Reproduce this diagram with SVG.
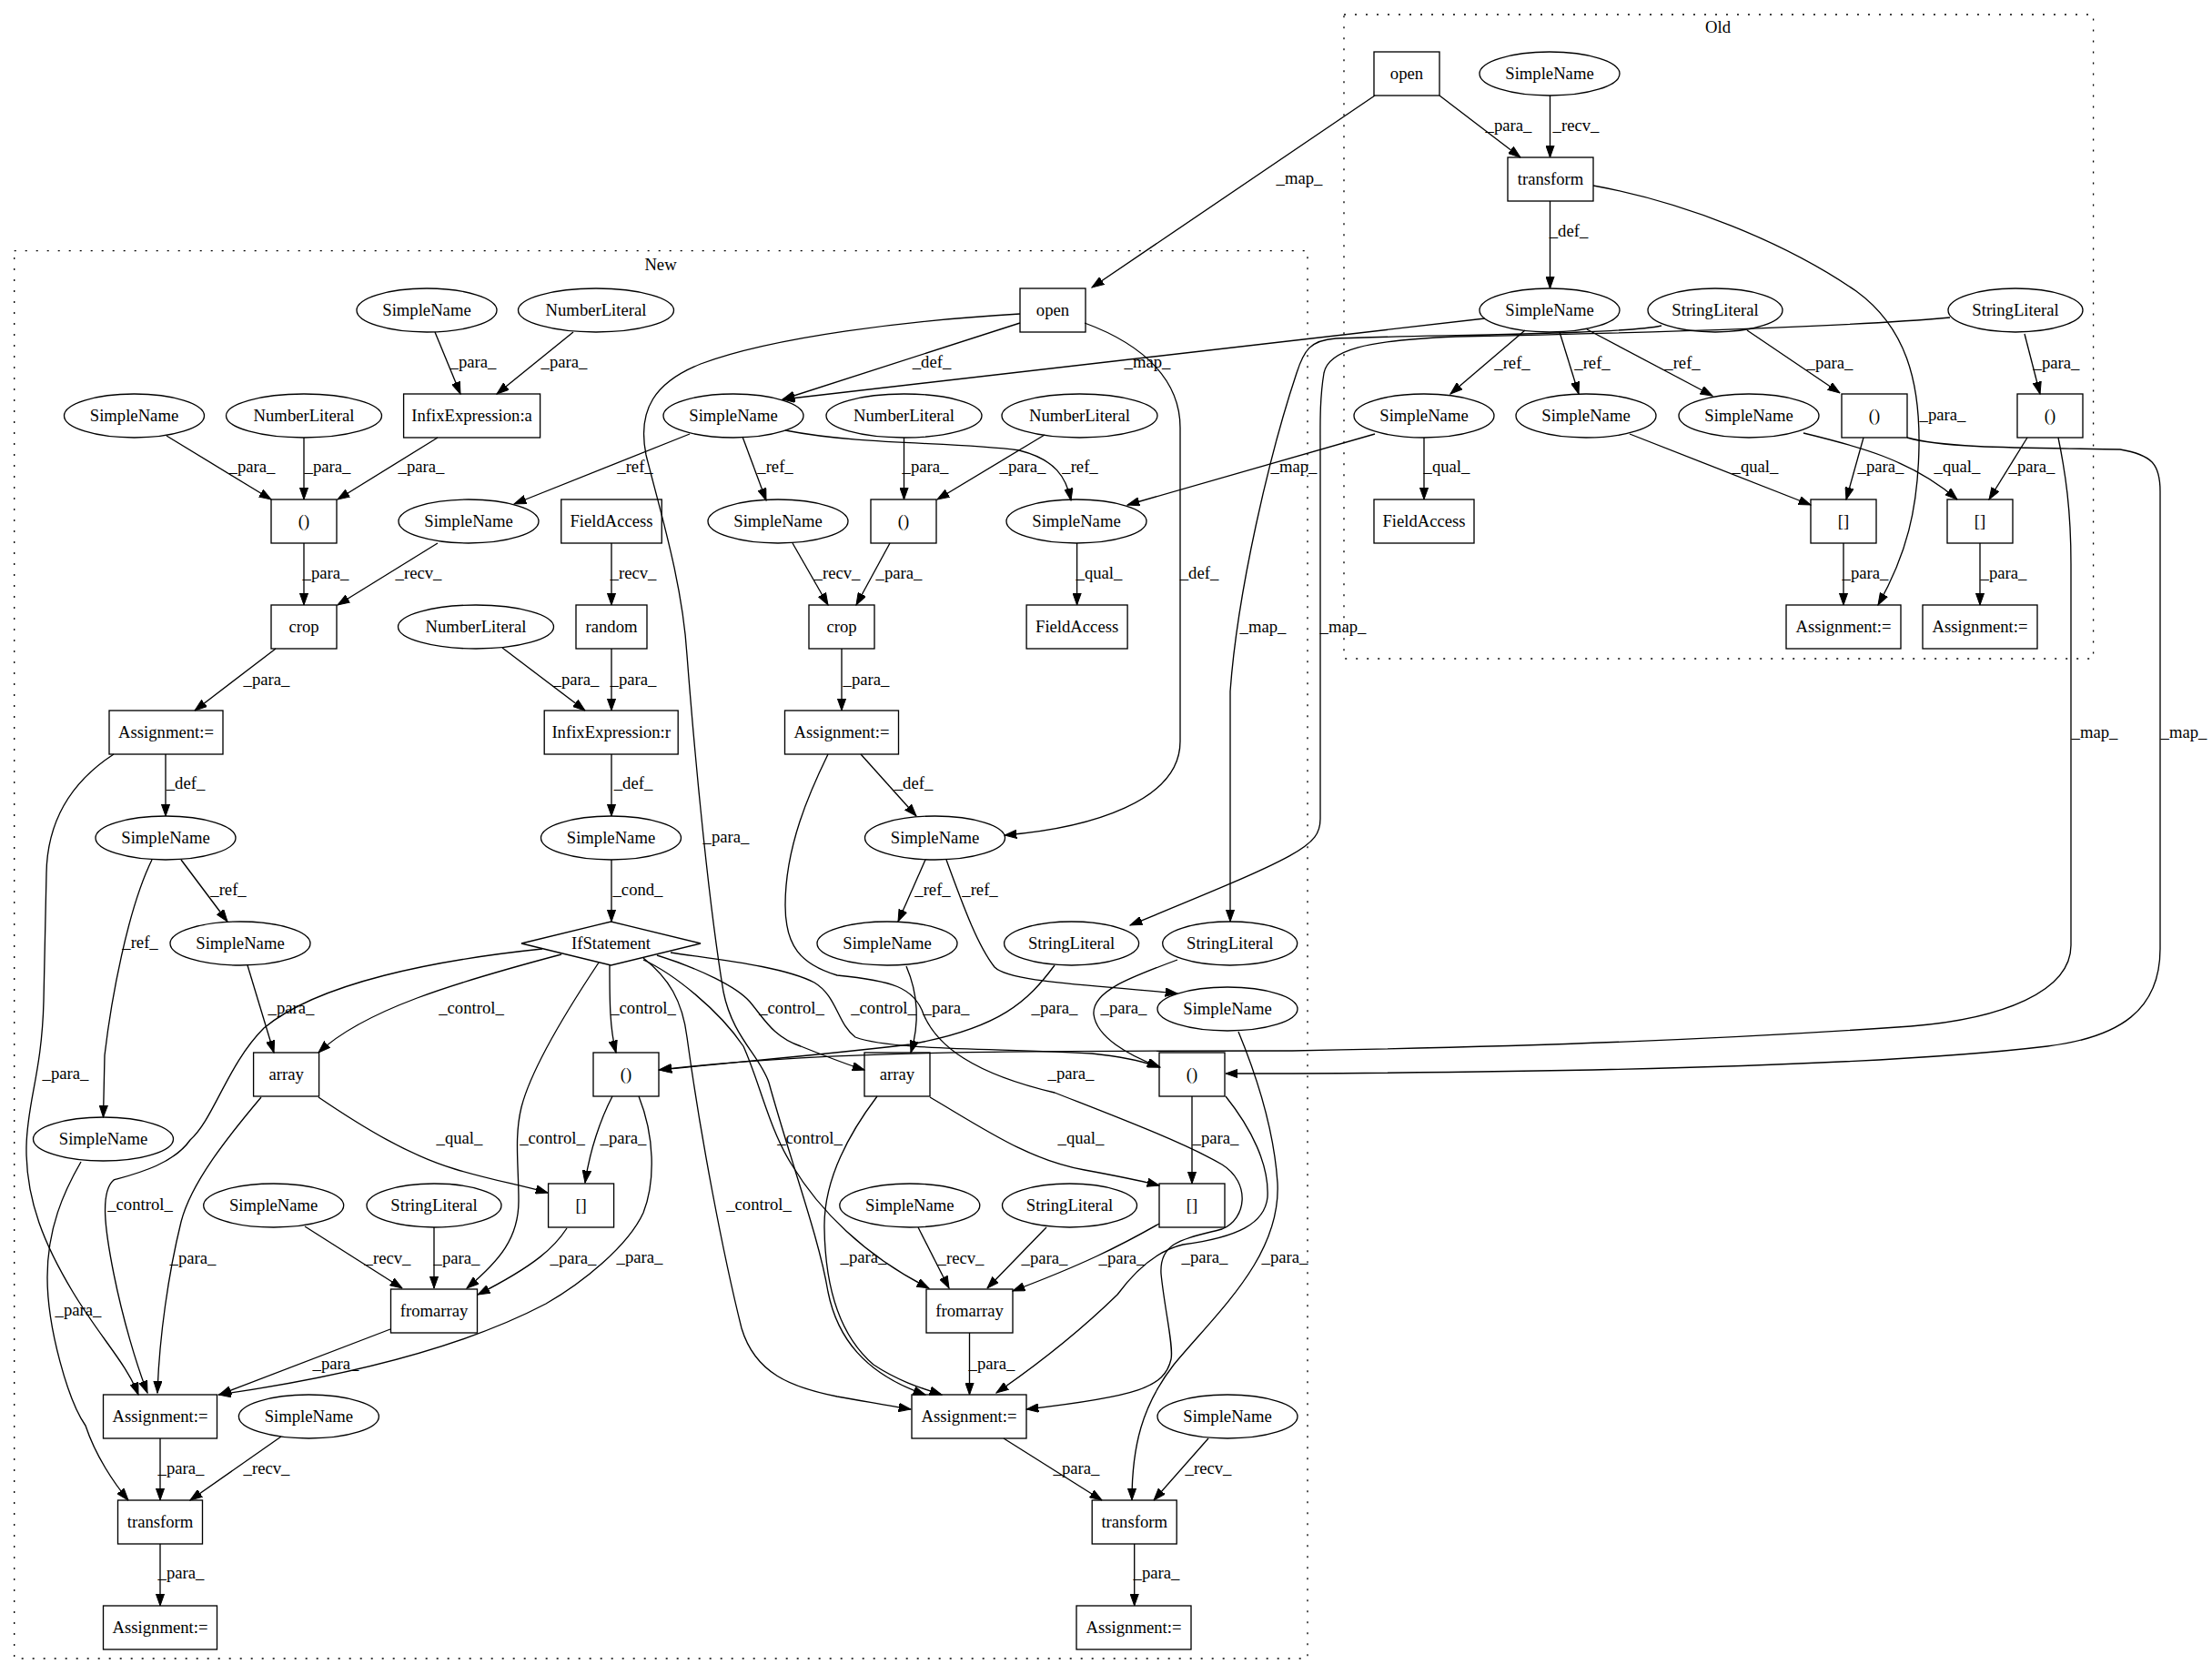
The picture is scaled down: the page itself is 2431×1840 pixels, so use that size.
<svg xmlns="http://www.w3.org/2000/svg" width="2431" height="1840" viewBox="0 0 2431 1840">
<style>
.t{font-family:"Liberation Serif","Times New Roman",serif;font-size:18.67px;text-anchor:middle;fill:#000}
.s{fill:none;stroke:#000;stroke-width:1.33}
.c{fill:none;stroke:#000;stroke-width:1.33;stroke-dasharray:2,10}
#edges path{fill:none;stroke:#000;stroke-width:1.33;marker-end:url(#a)}
</style>
<defs>
<marker id="a" markerWidth="14" markerHeight="10" refX="13.3" refY="5" orient="auto" markerUnits="userSpaceOnUse"><path d="M0,0.3 L13.3,5 L0,9.7 z" fill="#000" stroke="#000" stroke-width="1"/></marker>
</defs>
<rect width="2431" height="1840" fill="#fff"/>
<g id="clusters">
<rect class="c" x="1477" y="16" width="823.6" height="708"/>
<text class="t" x="1888" y="36">Old</text>
<rect class="c" x="15.7" y="275.6" width="1421.3" height="1547.4"/>
<text class="t" x="726" y="297">New</text>
</g>
<g id="edges">
<path d="M1582,105 L1671,173"/><text class="t" x="1658" y="144">_para_</text>
<path d="M1703.5,105 L1703.5,173"/><text class="t" x="1732" y="144">_recv_</text>
<path d="M1703.5,221 L1703.5,317"/><text class="t" x="1724" y="260">_def_</text>
<path d="M1751,204 C1850,222 1960,265 2040,320 C2095,360 2110,420 2109,490 C2108,560 2095,610 2064,665"/><text class="t" x="2135" y="462">_para_</text>
<path d="M1676,363 L1594,433"/><text class="t" x="1662" y="405">_ref_</text>
<path d="M1714,365 L1735,433"/><text class="t" x="1750" y="405">_ref_</text>
<path d="M1744,362 L1882,435"/><text class="t" x="1849" y="405">_ref_</text>
<path d="M1920,363 L2022,432"/><text class="t" x="2011" y="405">_para_</text>
<path d="M2225,367 L2242,433"/><text class="t" x="2260" y="405">_para_</text>
<path d="M1565,481 L1565,549"/><text class="t" x="1590" y="519">_qual_</text>
<path d="M1791,477 L1990,555"/><text class="t" x="1929" y="519">_qual_</text>
<path d="M1982,476 C2040,490 2100,505 2151,549"/><text class="t" x="2151" y="519">_qual_</text>
<path d="M2048,481 L2029,549"/><text class="t" x="2067" y="519">_para_</text>
<path d="M2228,481 L2186,549"/><text class="t" x="2233" y="519">_para_</text>
<path d="M2026,597 L2026,665"/><text class="t" x="2050" y="636">_para_</text>
<path d="M2176,597 L2176,665"/><text class="t" x="2202" y="636">_para_</text>
<path d="M1511,105 L1200,316"/><text class="t" x="1428" y="202">_map_</text>
<path d="M1632,350 L860,439"/><text class="t" x="1261" y="404">_map_</text>
<path d="M1511,477 L1239,555"/><text class="t" x="1422" y="519">_map_</text>
<path d="M1826,358 C1780,368 1560,368 1468,372 C1440,374 1433,385 1425,410 C1395,500 1360,650 1352,760 L1352,1013"/><text class="t" x="1388" y="695">_map_</text>
<path d="M2143,349 C2000,362 1700,368 1600,370 C1500,374 1460,385 1455,410 C1450,440 1451,470 1451,500 L1451,900 C1451,930 1430,940 1242,1017"/><text class="t" x="1476" y="695">_map_</text>
<path d="M2096,481 C2140,494 2250,492 2330,494 C2365,500 2374,510 2374,540 L2374,1043 C2374,1110 2330,1140 2250,1150 C2100,1168 1800,1178 1420,1180 L1347,1180"/><text class="t" x="2400" y="811">_map_</text>
<path d="M2262,481 C2270,520 2276,560 2276,620 L2276,1039 C2276,1090 2200,1120 2100,1128 C1900,1142 1700,1150 1420,1155 C1100,1155 900,1155 724,1176"/><text class="t" x="2302" y="811">_map_</text>
<path d="M478,365 L506,433"/><text class="t" x="520" y="404">_para_</text>
<path d="M630,365 L546,433"/><text class="t" x="620" y="404">_para_</text>
<path d="M183,479 L298,549"/><text class="t" x="277" y="519">_para_</text>
<path d="M334,481 L334,549"/><text class="t" x="360" y="519">_para_</text>
<path d="M481,481 L371,549"/><text class="t" x="463" y="519">_para_</text>
<path d="M1121,355 L860,439"/><text class="t" x="1024" y="404">_def_</text>
<path d="M1192,355 C1260,380 1297,420 1297,470 L1297,815 C1297,880 1200,910 1104,918"/><text class="t" x="1318" y="636">_def_</text>
<path d="M1121,345 C1000,352 850,370 770,400 C720,420 700,450 710,500 C725,560 750,640 755,720 C765,850 780,1000 795,1090 C805,1140 835,1160 845,1190 C870,1280 900,1360 910,1420 C920,1470 950,1510 1017,1533"/><text class="t" x="798" y="926">_para_</text>
<path d="M758,477 L565,554"/><text class="t" x="698" y="519">_ref_</text>
<path d="M816,480 L842,550"/><text class="t" x="852" y="519">_ref_</text>
<path d="M863,473 C950,490 1050,485 1120,495 C1160,505 1172,525 1177,550"/><text class="t" x="1187" y="519">_ref_</text>
<path d="M993.5,481 L993.5,549"/><text class="t" x="1017" y="519">_para_</text>
<path d="M1148,478 L1030,549"/><text class="t" x="1124" y="519">_para_</text>
<path d="M334,597 L334,665"/><text class="t" x="358" y="636">_para_</text>
<path d="M481,597 L371,665"/><text class="t" x="460" y="636">_recv_</text>
<path d="M672,597 L672,665"/><text class="t" x="696" y="636">_recv_</text>
<path d="M871,597 L910,665"/><text class="t" x="920" y="636">_recv_</text>
<path d="M978,597 L941,665"/><text class="t" x="988" y="636">_para_</text>
<path d="M1183.6,597 L1183.6,665"/><text class="t" x="1208" y="636">_qual_</text>
<path d="M303,713 L214,781"/><text class="t" x="293" y="753">_para_</text>
<path d="M552,712 L643,781"/><text class="t" x="633" y="753">_para_</text>
<path d="M672,713 L672,781"/><text class="t" x="696" y="753">_para_</text>
<path d="M925,713 L925,781"/><text class="t" x="952" y="753">_para_</text>
<path d="M182,829 L182,897"/><text class="t" x="204" y="867">_def_</text>
<path d="M672,829 L672,897"/><text class="t" x="696" y="867">_def_</text>
<path d="M946,829 L1007,897"/><text class="t" x="1004" y="867">_def_</text>
<path d="M125,829 C85,855 52,895 51,960 L48,1100 C46,1180 30,1210 29,1260 C28,1320 50,1370 80,1420 C110,1470 140,1500 152,1533"/><text class="t" x="72" y="1186">_para_</text>
<path d="M910,829 C890,870 863,930 863,995 C863,1040 880,1060 920,1072 C980,1078 1005,1085 1015,1115 C1030,1150 1070,1180 1159,1201 C1220,1225 1300,1255 1343,1280 C1375,1300 1370,1340 1343,1351 C1300,1362 1274,1365 1276,1400 C1280,1440 1290,1480 1287,1494 C1280,1525 1250,1535 1128,1549"/><text class="t" x="1177" y="1186">_para_</text>
<path d="M199,945 L250,1013"/><text class="t" x="251" y="984">_ref_</text>
<path d="M167,945 C140,1000 122,1100 115,1160 L113.5,1228"/><text class="t" x="154" y="1042">_ref_</text>
<path d="M672,945 L672,1013"/><text class="t" x="701" y="984">_cond_</text>
<path d="M1017,945 L987,1013"/><text class="t" x="1025" y="984">_ref_</text>
<path d="M1040,945 C1060,1000 1075,1040 1093,1063 C1110,1080 1200,1082 1294,1092"/><text class="t" x="1077" y="984">_ref_</text>
<path d="M272,1061 L301,1157"/><text class="t" x="320" y="1114">_para_</text>
<path d="M996,1062 C1008,1090 1012,1120 1001,1157"/><text class="t" x="1040" y="1114">_para_</text>
<path d="M1159,1061 C1130,1100 1100,1130 1000,1148 C900,1160 800,1168 725,1176"/><text class="t" x="1159" y="1114">_para_</text>
<path d="M1294,1055 C1240,1075 1200,1090 1202,1115 C1205,1140 1240,1160 1275,1173"/><text class="t" x="1235" y="1114">_para_</text>
<path d="M617,1049 C500,1080 400,1110 350,1157"/><text class="t" x="518" y="1114">_control_</text>
<path d="M670,1061 C670,1100 670,1130 677,1157"/><text class="t" x="707" y="1114">_control_</text>
<path d="M722,1050 C770,1065 810,1085 824,1101 C840,1120 850,1140 880,1150 C910,1162 930,1170 950,1176"/><text class="t" x="870" y="1114">_control_</text>
<path d="M737,1047 C790,1055 860,1062 895,1080 C920,1095 920,1125 940,1140 C980,1155 1100,1152 1200,1158 C1240,1162 1260,1168 1274,1173"/><text class="t" x="971" y="1114">_control_</text>
<path d="M658,1058 C630,1100 585,1170 573,1217 C565,1250 570,1280 570,1320 C570,1360 550,1385 513,1416"/><text class="t" x="607" y="1257">_control_</text>
<path d="M707,1055 C740,1070 790,1110 817,1150 C835,1190 845,1240 870,1280 C900,1330 950,1380 1021,1416"/><text class="t" x="890" y="1257">_control_</text>
<path d="M707,1053 C735,1075 750,1100 755,1140 C770,1250 795,1380 815,1460 C830,1510 870,1525 920,1535 C950,1540 975,1545 1001,1549"/><text class="t" x="834" y="1330">_control_</text>
<path d="M596,1043 C480,1055 350,1080 290,1130 C250,1170 235,1230 209,1253 C190,1280 150,1290 125,1297 C110,1310 115,1350 125,1400 C135,1450 150,1500 162,1531"/><text class="t" x="154" y="1330">_control_</text>
<path d="M350,1206 C400,1240 450,1270 500,1285 C540,1297 570,1302 602,1311"/><text class="t" x="505" y="1257">_qual_</text>
<path d="M287,1206 C250,1250 210,1300 199,1343 C185,1400 175,1470 173,1531"/><text class="t" x="212" y="1389">_para_</text>
<path d="M673,1205 C660,1230 648,1265 643,1300"/><text class="t" x="685" y="1257">_para_</text>
<path d="M702,1205 C720,1250 720,1300 707,1333 C690,1370 640,1410 600,1433 C520,1475 400,1510 240,1533"/><text class="t" x="703" y="1388">_para_</text>
<path d="M1022,1206 C1080,1240 1130,1275 1192,1286 C1230,1293 1250,1297 1274,1303"/><text class="t" x="1188" y="1257">_qual_</text>
<path d="M964,1205 C930,1250 905,1300 906,1350 C907,1420 925,1470 960,1500 C990,1520 1020,1528 1035,1533"/><text class="t" x="949" y="1388">_para_</text>
<path d="M1310,1205 L1310,1301"/><text class="t" x="1336" y="1257">_para_</text>
<path d="M1347,1205 C1375,1240 1395,1280 1393,1316 C1390,1345 1360,1360 1300,1368 C1270,1375 1245,1400 1228,1423 C1190,1460 1140,1500 1095,1531"/><text class="t" x="1324" y="1388">_para_</text>
<path d="M1361,1134 C1380,1180 1400,1240 1404,1300 C1408,1380 1340,1440 1290,1500 C1255,1545 1244,1590 1244,1649"/><text class="t" x="1412" y="1388">_para_</text>
<path d="M335,1348 L442,1416"/><text class="t" x="426" y="1389">_recv_</text>
<path d="M477,1349 L477,1416"/><text class="t" x="502" y="1389">_para_</text>
<path d="M623,1350 C610,1370 590,1390 525,1423"/><text class="t" x="630" y="1389">_para_</text>
<path d="M429,1461 L241,1533"/><text class="t" x="369" y="1505">_para_</text>
<path d="M1009,1349 L1043,1416"/><text class="t" x="1056" y="1389">_recv_</text>
<path d="M1150,1349 L1085,1416"/><text class="t" x="1148" y="1389">_para_</text>
<path d="M1274,1345 C1230,1370 1190,1390 1113,1419"/><text class="t" x="1233" y="1389">_para_</text>
<path d="M1065.5,1465 L1065.5,1533"/><text class="t" x="1090" y="1505">_para_</text>
<path d="M176,1581 L176,1649"/><text class="t" x="199" y="1620">_para_</text>
<path d="M309,1579 L209,1649"/><text class="t" x="293" y="1620">_recv_</text>
<path d="M176,1697 L176,1765"/><text class="t" x="199" y="1735">_para_</text>
<path d="M89,1277 C70,1310 52,1350 52,1404 C52,1460 75,1540 94,1567 C105,1600 125,1630 141,1649"/><text class="t" x="86" y="1446">_para_</text>
<path d="M1103,1581 L1211,1649"/><text class="t" x="1183" y="1620">_para_</text>
<path d="M1328,1581 L1268,1649"/><text class="t" x="1328" y="1620">_recv_</text>
<path d="M1246.7,1697 L1246.7,1765"/><text class="t" x="1271" y="1735">_para_</text>
</g>
<g id="o_open"><rect class="s" x="1510" y="57" width="72" height="48"/><text class="t" x="1546" y="87">open</text></g>
<g id="o_sn_recv"><ellipse class="s" cx="1703" cy="81" rx="77" ry="24"/><text class="t" x="1703" y="87">SimpleName</text></g>
<g id="o_transform"><rect class="s" x="1657" y="173" width="94" height="48"/><text class="t" x="1704" y="203">transform</text></g>
<g id="o_sn_def"><ellipse class="s" cx="1703" cy="341" rx="77" ry="24"/><text class="t" x="1703" y="347">SimpleName</text></g>
<g id="o_str1"><ellipse class="s" cx="1885" cy="341" rx="74" ry="24"/><text class="t" x="1885" y="347">StringLiteral</text></g>
<g id="o_str2"><ellipse class="s" cx="2215" cy="341" rx="74" ry="24"/><text class="t" x="2215" y="347">StringLiteral</text></g>
<g id="o_sn_a"><ellipse class="s" cx="1565" cy="457" rx="77" ry="24"/><text class="t" x="1565" y="463">SimpleName</text></g>
<g id="o_sn_b"><ellipse class="s" cx="1743" cy="457" rx="77" ry="24"/><text class="t" x="1743" y="463">SimpleName</text></g>
<g id="o_sn_c"><ellipse class="s" cx="1922" cy="457" rx="77" ry="24"/><text class="t" x="1922" y="463">SimpleName</text></g>
<g id="o_par1"><rect class="s" x="2024" y="433" width="72" height="48"/><text class="t" x="2060" y="463">()</text></g>
<g id="o_par2"><rect class="s" x="2217" y="433" width="72" height="48"/><text class="t" x="2253" y="463">()</text></g>
<g id="o_fa"><rect class="s" x="1510" y="549" width="110" height="48"/><text class="t" x="1565" y="579">FieldAccess</text></g>
<g id="o_br1"><rect class="s" x="1990" y="549" width="72" height="48"/><text class="t" x="2026" y="579">[]</text></g>
<g id="o_br2"><rect class="s" x="2140" y="549" width="72" height="48"/><text class="t" x="2176" y="579">[]</text></g>
<g id="o_asg1"><rect class="s" x="1963" y="665" width="126" height="48"/><text class="t" x="2026" y="695">Assignment:=</text></g>
<g id="o_asg2"><rect class="s" x="2113" y="665" width="126" height="48"/><text class="t" x="2176" y="695">Assignment:=</text></g>
<g id="n_open"><rect class="s" x="1121" y="317" width="72" height="48"/><text class="t" x="1157" y="347">open</text></g>
<g id="n_sn_x"><ellipse class="s" cx="469" cy="341" rx="77" ry="24"/><text class="t" x="469" y="347">SimpleName</text></g>
<g id="n_nl_x"><ellipse class="s" cx="655" cy="341" rx="85.5" ry="24"/><text class="t" x="655" y="347">NumberLiteral</text></g>
<g id="n_sn_y"><ellipse class="s" cx="147.5" cy="457" rx="77" ry="24"/><text class="t" x="147.5" y="463">SimpleName</text></g>
<g id="n_nl_y"><ellipse class="s" cx="334" cy="457" rx="85.5" ry="24"/><text class="t" x="334" y="463">NumberLiteral</text></g>
<g id="n_infa"><rect class="s" x="443.6" y="433" width="150" height="48"/><text class="t" x="518.6" y="463">InfixExpression:a</text></g>
<g id="n_sn_def"><ellipse class="s" cx="806" cy="457" rx="77" ry="24"/><text class="t" x="806" y="463">SimpleName</text></g>
<g id="n_nl2"><ellipse class="s" cx="993.5" cy="457" rx="85.5" ry="24"/><text class="t" x="993.5" y="463">NumberLiteral</text></g>
<g id="n_nl3"><ellipse class="s" cx="1186.5" cy="457" rx="85.5" ry="24"/><text class="t" x="1186.5" y="463">NumberLiteral</text></g>
<g id="n_par_a"><rect class="s" x="298" y="549" width="72" height="48"/><text class="t" x="334" y="579">()</text></g>
<g id="n_sn_r1"><ellipse class="s" cx="515" cy="573" rx="77" ry="24"/><text class="t" x="515" y="579">SimpleName</text></g>
<g id="n_fa1"><rect class="s" x="616.75" y="549" width="110.5" height="48"/><text class="t" x="672" y="579">FieldAccess</text></g>
<g id="n_sn_r2"><ellipse class="s" cx="855" cy="573" rx="77" ry="24"/><text class="t" x="855" y="579">SimpleName</text></g>
<g id="n_par_b"><rect class="s" x="957" y="549" width="72" height="48"/><text class="t" x="993" y="579">()</text></g>
<g id="n_sn_r3"><ellipse class="s" cx="1183" cy="573" rx="77" ry="24"/><text class="t" x="1183" y="579">SimpleName</text></g>
<g id="n_crop1"><rect class="s" x="298" y="665" width="72" height="48"/><text class="t" x="334" y="695">crop</text></g>
<g id="n_nl4"><ellipse class="s" cx="523" cy="689" rx="85.5" ry="24"/><text class="t" x="523" y="695">NumberLiteral</text></g>
<g id="n_random"><rect class="s" x="633" y="665" width="78" height="48"/><text class="t" x="672" y="695">random</text></g>
<g id="n_crop2"><rect class="s" x="889" y="665" width="72" height="48"/><text class="t" x="925" y="695">crop</text></g>
<g id="n_fa2"><rect class="s" x="1128.1" y="665" width="111" height="48"/><text class="t" x="1183.6" y="695">FieldAccess</text></g>
<g id="n_asg1"><rect class="s" x="120" y="781" width="125" height="48"/><text class="t" x="182.5" y="811">Assignment:=</text></g>
<g id="n_infr"><rect class="s" x="598.2" y="781" width="147" height="48"/><text class="t" x="671.7" y="811">InfixExpression:r</text></g>
<g id="n_asg2"><rect class="s" x="862.5" y="781" width="125" height="48"/><text class="t" x="925" y="811">Assignment:=</text></g>
<g id="n_sn_a1"><ellipse class="s" cx="182" cy="921" rx="77" ry="24"/><text class="t" x="182" y="927">SimpleName</text></g>
<g id="n_sn_cond"><ellipse class="s" cx="671.5" cy="921" rx="77" ry="24"/><text class="t" x="671.5" y="927">SimpleName</text></g>
<g id="n_sn_a2"><ellipse class="s" cx="1027.5" cy="921" rx="77" ry="24"/><text class="t" x="1027.5" y="927">SimpleName</text></g>
<g id="n_sn_b1"><ellipse class="s" cx="264" cy="1037" rx="77" ry="24"/><text class="t" x="264" y="1043">SimpleName</text></g>
<g id="n_if"><polygon class="s" points="573,1037 671.5,1013 770,1037 671.5,1061"/><text class="t" x="671.5" y="1043">IfStatement</text></g>
<g id="n_sn_b2"><ellipse class="s" cx="975" cy="1037" rx="77" ry="24"/><text class="t" x="975" y="1043">SimpleName</text></g>
<g id="n_str1"><ellipse class="s" cx="1177.6" cy="1037" rx="74" ry="24"/><text class="t" x="1177.6" y="1043">StringLiteral</text></g>
<g id="n_str2"><ellipse class="s" cx="1351.7" cy="1037" rx="74" ry="24"/><text class="t" x="1351.7" y="1043">StringLiteral</text></g>
<g id="n_sn_b3"><ellipse class="s" cx="1349" cy="1109" rx="77" ry="24"/><text class="t" x="1349" y="1115">SimpleName</text></g>
<g id="n_array1"><rect class="s" x="278.6" y="1157" width="72" height="48"/><text class="t" x="314.6" y="1187">array</text></g>
<g id="n_par_c"><rect class="s" x="652" y="1157" width="72" height="48"/><text class="t" x="688" y="1187">()</text></g>
<g id="n_array2"><rect class="s" x="950" y="1157" width="72" height="48"/><text class="t" x="986" y="1187">array</text></g>
<g id="n_par_d"><rect class="s" x="1274" y="1157" width="72" height="48"/><text class="t" x="1310" y="1187">()</text></g>
<g id="n_sn_c1"><ellipse class="s" cx="113.5" cy="1252" rx="77" ry="24"/><text class="t" x="113.5" y="1258">SimpleName</text></g>
<g id="n_sn_f1"><ellipse class="s" cx="300.7" cy="1325" rx="77" ry="24"/><text class="t" x="300.7" y="1331">SimpleName</text></g>
<g id="n_str_f1"><ellipse class="s" cx="477" cy="1325" rx="74" ry="24"/><text class="t" x="477" y="1331">StringLiteral</text></g>
<g id="n_br1"><rect class="s" x="602.6" y="1301" width="72" height="48"/><text class="t" x="638.6" y="1331">[]</text></g>
<g id="n_sn_f2"><ellipse class="s" cx="999.8" cy="1325" rx="77" ry="24"/><text class="t" x="999.8" y="1331">SimpleName</text></g>
<g id="n_str_f2"><ellipse class="s" cx="1175.5" cy="1325" rx="74" ry="24"/><text class="t" x="1175.5" y="1331">StringLiteral</text></g>
<g id="n_br2"><rect class="s" x="1274" y="1301" width="72" height="48"/><text class="t" x="1310" y="1331">[]</text></g>
<g id="n_fromarray1"><rect class="s" x="429.5" y="1417" width="95" height="48"/><text class="t" x="477" y="1447">fromarray</text></g>
<g id="n_fromarray2"><rect class="s" x="1018" y="1417" width="95" height="48"/><text class="t" x="1065.5" y="1447">fromarray</text></g>
<g id="n_asg3"><rect class="s" x="113.5" y="1533" width="125" height="48"/><text class="t" x="176" y="1563">Assignment:=</text></g>
<g id="n_sn_t1"><ellipse class="s" cx="339.4" cy="1557" rx="77" ry="24"/><text class="t" x="339.4" y="1563">SimpleName</text></g>
<g id="n_asg4"><rect class="s" x="1002" y="1533" width="126" height="48"/><text class="t" x="1065" y="1563">Assignment:=</text></g>
<g id="n_sn_t2"><ellipse class="s" cx="1349" cy="1557" rx="77" ry="24"/><text class="t" x="1349" y="1563">SimpleName</text></g>
<g id="n_transform1"><rect class="s" x="129.5" y="1649" width="93" height="48"/><text class="t" x="176" y="1679">transform</text></g>
<g id="n_transform2"><rect class="s" x="1200.2" y="1649" width="93" height="48"/><text class="t" x="1246.7" y="1679">transform</text></g>
<g id="n_asg5"><rect class="s" x="113.5" y="1765" width="125" height="48"/><text class="t" x="176" y="1795">Assignment:=</text></g>
<g id="n_asg6"><rect class="s" x="1183" y="1765" width="126" height="48"/><text class="t" x="1246" y="1795">Assignment:=</text></g>
</svg>
